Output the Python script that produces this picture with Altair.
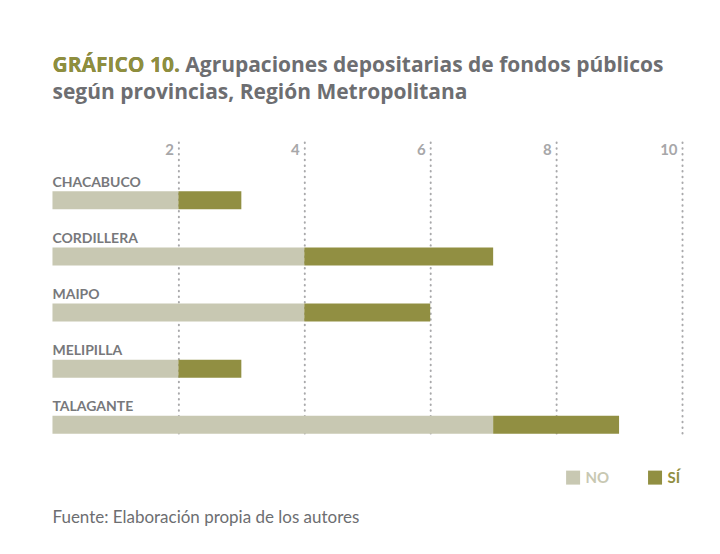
import altair as alt
import pandas as pd

provincias = ["CHACABUCO", "CORDILLERA", "MAIPO", "MELIPILLA", "TALAGANTE"]
no_vals = [2, 4, 4, 2, 7]
si_vals = [1, 3, 2, 1, 2]
series = ["NO", "SÍ"]
series_colors = ["#c8c8b2", "#918f42"]
tick_values = [2, 4, 6, 8, 10]

title_lead = "GRÁFICO 10."
title_line1 = "GRÁFICO 10. Agrupaciones depositarias de fondos públicos"
title_line2 = "según provincias, Región Metropolitana"
source_text = "Fuente: Elaboración propia de los autores"

FONT = "Lato"
TITLE_FONT = "Open Sans"
GREY_TITLE = "#6d6e71"
OLIVE = "#8f8f3c"

rows = []
for p, n, s in zip(provincias, no_vals, si_vals):
    rows.append({"provincia": p, "serie": "NO", "valor": n, "orden": 0})
    rows.append({"provincia": p, "serie": "SÍ", "valor": s, "orden": 1})
df = pd.DataFrame(rows)
labels_df = pd.DataFrame({"provincia": provincias})

yscale = alt.Scale(paddingInner=0, paddingOuter=0.1, align=1)

bars = alt.Chart(df).mark_bar(size=18, yOffset=19).encode(
    x=alt.X(
        "valor:Q",
        stack="zero",
        scale=alt.Scale(domain=[0, 10], nice=False),
        axis=alt.Axis(
            orient="top", values=tick_values, format="d", title=None, domain=False,
            ticks=False, tickSize=0, grid=True, gridDash=[0.5, 5.2],
            gridCap="round", gridWidth=2, gridColor="#a9a9ab",
            labelAlign="right", labelOffset=-5, labelBaseline="alphabetic",
            labelPadding=-12, labelFont=FONT, labelFontSize=15,
            labelFontWeight="bold", labelColor="#a7a7a9",
        ),
    ),
    y=alt.Y("provincia:N", sort=provincias, axis=None, scale=yscale),
    color=alt.Color(
        "serie:N",
        scale=alt.Scale(domain=series, range=series_colors),
        legend=alt.Legend(
            title=None, orient="none", legendX=513.5, legendY=328,
            direction="horizontal", symbolType="square", symbolSize=196,
            symbolStrokeWidth=0, labelOffset=5, columnPadding=38,
            labelFont=FONT, labelFontSize=15, labelFontWeight="bold",
            labelColor={"expr": "datum.value == 'NO' ? '#c8c8b2' : '#918f42'"},
        ),
    ),
    order=alt.Order("orden:Q"),
)

cat_labels = alt.Chart(labels_df).mark_text(
    align="left", baseline="alphabetic", dy=5.6, font=FONT, fontSize=14,
    fontWeight="bold", color="#77787b",
).encode(
    x=alt.datum(0),
    y=alt.Y("provincia:N", sort=provincias, axis=None, scale=yscale),
    text="provincia:N",
)

def text_layer(txt, y, color, size, weight, font):
    return alt.Chart(pd.DataFrame({"t": [txt]})).mark_text(
        align="left", baseline="alphabetic", font=font, fontSize=size,
        fontWeight=weight, color=color,
    ).encode(x=alt.value(0), y=alt.value(y), text="t:N")

t1 = text_layer(title_line1, -70, GREY_TITLE, 21, "bold", TITLE_FONT)
t1b = text_layer(title_lead, -70, OLIVE, 21, "bold", TITLE_FONT)
t2 = text_layer(title_line2, -43, GREY_TITLE, 21, "bold", TITLE_FONT)
src = text_layer(source_text, 381, "#6d6e71", 17, "normal", FONT)

chart = alt.layer(bars, cat_labels, t1, t1b, t2, src).properties(
    width=630, height=292,
    autosize=alt.AutoSizeParams(type="none"),
    padding={"left": 44.5, "top": 134, "right": 30, "bottom": 120},
    background="white",
).configure_view(stroke=None)

chart.save("out.html", embed_options={"renderer": "svg", "actions": False})
